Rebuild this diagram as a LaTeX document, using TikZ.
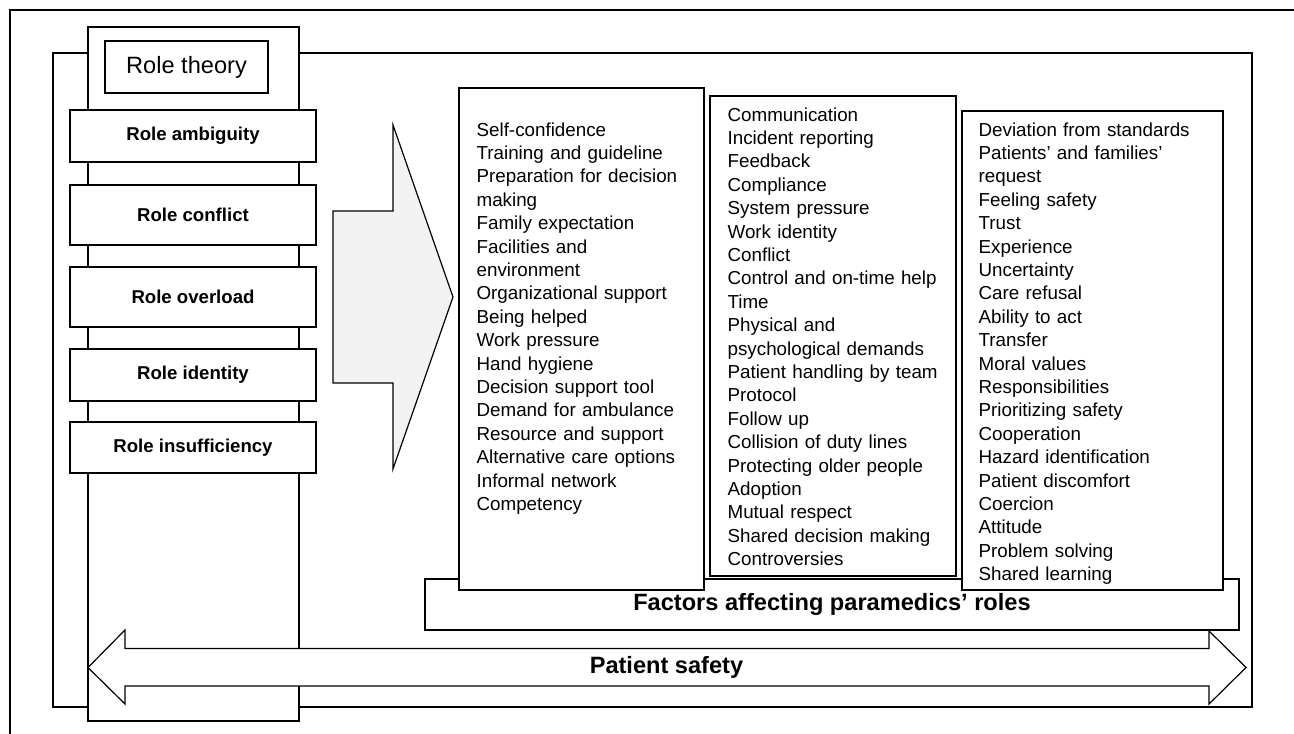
\documentclass[tikz,border=0pt]{standalone}
\usepackage{fontspec}
\setmainfont{Liberation Sans}
\begin{document}
\begin{tikzpicture}[x=1pt,y=-1pt,line width=1.2pt,
  plainbox/.style={draw=black,fill=white,inner sep=0pt,outer sep=0pt},
  rolebox/.style={plainbox,minimum width=246pt,font=\fontsize{18.6}{22}\selectfont\bfseries},
  coltext/.style={inner sep=0pt,anchor=base west,text width=265pt,align=left,font=\fontsize{18.8}{23.4}\selectfont},
  bigtitle/.style={font=\fontsize{23.6}{28}\selectfont\bfseries}]
\useasboundingbox (0,0) rectangle (1294,734);
% outer frame (only top and left visible)
\coordinate (ofA) at (1294,10);
\coordinate (ofB) at (10,10);
\coordinate (ofC) at (10,734);
\draw (ofA) -- (ofB) -- (ofC);
% inner frame
\node[draw,inner sep=0pt,minimum width=1199pt,minimum height=654pt] (frame) at (652.5,380) {};
% role theory column
\node[plainbox,minimum width=211pt,minimum height=694pt] (column) at (193.5,374) {};
\node[plainbox,minimum width=163pt,minimum height=52pt,font=\fontsize{23.6}{28}\selectfont] (rt) at (186.5,67) {Role theory};
\node[rolebox,minimum height=52pt] (r1) at (193,136) {Role ambiguity};
\node[rolebox,minimum height=60pt] (r2) at (193,215) {Role conflict};
\node[rolebox,minimum height=60pt] (r3) at (193,297) {Role overload};
\node[rolebox,minimum height=52pt] (r4) at (193,375) {Role identity};
\node[rolebox,minimum height=51pt] (r5) at (193,447.5) {Role insufficiency};
% big grey arrow
\draw[fill=black!5] (333,211) -- (393,211) -- (393,125) -- (453,297) -- (393,469) -- (393,383) -- (333,383) -- cycle;
% factors box
\node[plainbox,bigtitle,minimum width=814pt,minimum height=51pt] (factors) at (832,604.5) {Factors affecting paramedics’ roles};
% factor columns
\node[plainbox,minimum width=245pt,minimum height=502pt] (c1) at (581.5,339) {};
\node[plainbox,minimum width=246pt,minimum height=480pt] (c2) at (833,336) {};
\node[plainbox,minimum width=261pt,minimum height=479pt] (c3) at (1092.5,350.5) {};
\node[coltext] (t1) at (476,136) {Self-confidence\\Training and guideline\\Preparation for decision\\making\\Family expectation\\Facilities and\\environment\\Organizational support\\Being helped\\Work pressure\\Hand hygiene\\Decision support tool\\Demand for ambulance\\Resource and support\\Alternative care options\\Informal network\\Competency};
\node[coltext] (t2) at (727,121) {Communication\\Incident reporting\\Feedback\\Compliance\\System pressure\\Work identity\\Conflict\\Control and on-time help\\Time\\Physical and\\psychological demands\\Patient handling by team\\Protocol\\Follow up\\Collision of duty lines\\Protecting older people\\Adoption\\Mutual respect\\Shared decision making\\Controversies};
\node[coltext] (t3) at (978,136) {Deviation from standards\\Patients’ and families’\\request\\Feeling safety\\Trust\\Experience\\Uncertainty\\Care refusal\\Ability to act\\Transfer\\Moral values\\Responsibilities\\Prioritizing safety\\Cooperation\\Hazard identification\\Patient discomfort\\Coercion\\Attitude\\Problem solving\\Shared learning};
% patient safety double arrow
\draw[fill=white] (88,667.5) -- (125,630) -- (125,648.5) -- (1209,648.5) -- (1209,631) -- (1246,667.5) -- (1209,704) -- (1209,686) -- (125,686) -- (125,704) -- cycle;
\node[bigtitle,inner sep=0pt] (ps) at (666.5,667.5) {Patient safety};
\end{tikzpicture}
\end{document}
